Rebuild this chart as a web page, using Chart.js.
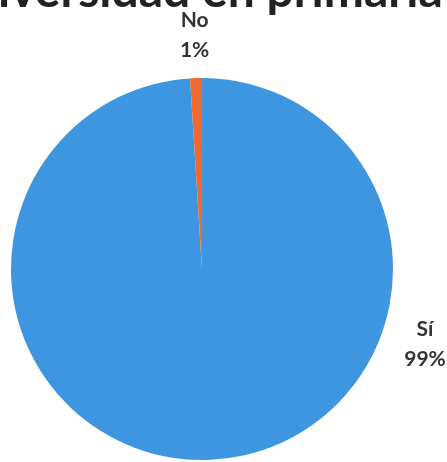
<!DOCTYPE html>
<html>
<head>
<meta charset="utf-8">
<script src="https://cdn.jsdelivr.net/npm/chart.js@4/dist/chart.umd.min.js"></script>
<style>
html,body{margin:0;padding:0;background:#fff;}
#wrap{width:447px;height:462px;position:relative;}
</style>
</head>
<body>
<div id="wrap"><canvas id="c" width="447" height="462"></canvas></div>
<script>
const titleText = "diversidad en primaria";
const categories = ["Sí", "No"];
const values = [99, 1];
const percentLabels = ["99%", "1%"];
const colors = ["#3f96e0", "#ef6a33"];

const labelPlugin = {
  id: 'labelPlugin',
  afterDraw(chart) {
    const ctx = chart.ctx;
    ctx.save();
    // title (cropped at top, as in reference)
    ctx.fillStyle = '#222';
    ctx.font = 'bold 48px Lato';
    ctx.textAlign = 'left';
    ctx.textBaseline = 'alphabetic';
    const dW = ctx.measureText('d').width;
    ctx.fillText(titleText, -dW - 2, 7);

    const meta = chart.getDatasetMeta(0);
    ctx.fillStyle = '#333';
    ctx.font = 'bold 21px Lato';
    ctx.textAlign = 'center';
    ctx.textBaseline = 'middle';
    meta.data.forEach((arc, i) => {
      const r = arc.outerRadius + 44;
      let ang;
      if (categories[i] === 'No') ang = (arc.startAngle + arc.endAngle) / 2;
      else ang = 18.4 * Math.PI / 180;
      const x = arc.x + Math.cos(ang) * r;
      const y = arc.y + Math.sin(ang) * r;
      ctx.fillText(categories[i], x, y - 14);
      ctx.fillText(percentLabels[i], x, y + 16);
    });
    ctx.restore();
  }
};

new Chart(document.getElementById('c'), {
  type: 'pie',
  data: {
    labels: categories,
    datasets: [{
      data: values,
      backgroundColor: colors,
      borderWidth: 0
    }]
  },
  options: {
    responsive: false,
    animation: false,
    layout: { padding: { top: 78, bottom: 2, left: 11, right: 54 } },
    plugins: {
      legend: { display: false },
      tooltip: { enabled: false }
    }
  },
  plugins: [labelPlugin]
});
</script>
</body>
</html>
